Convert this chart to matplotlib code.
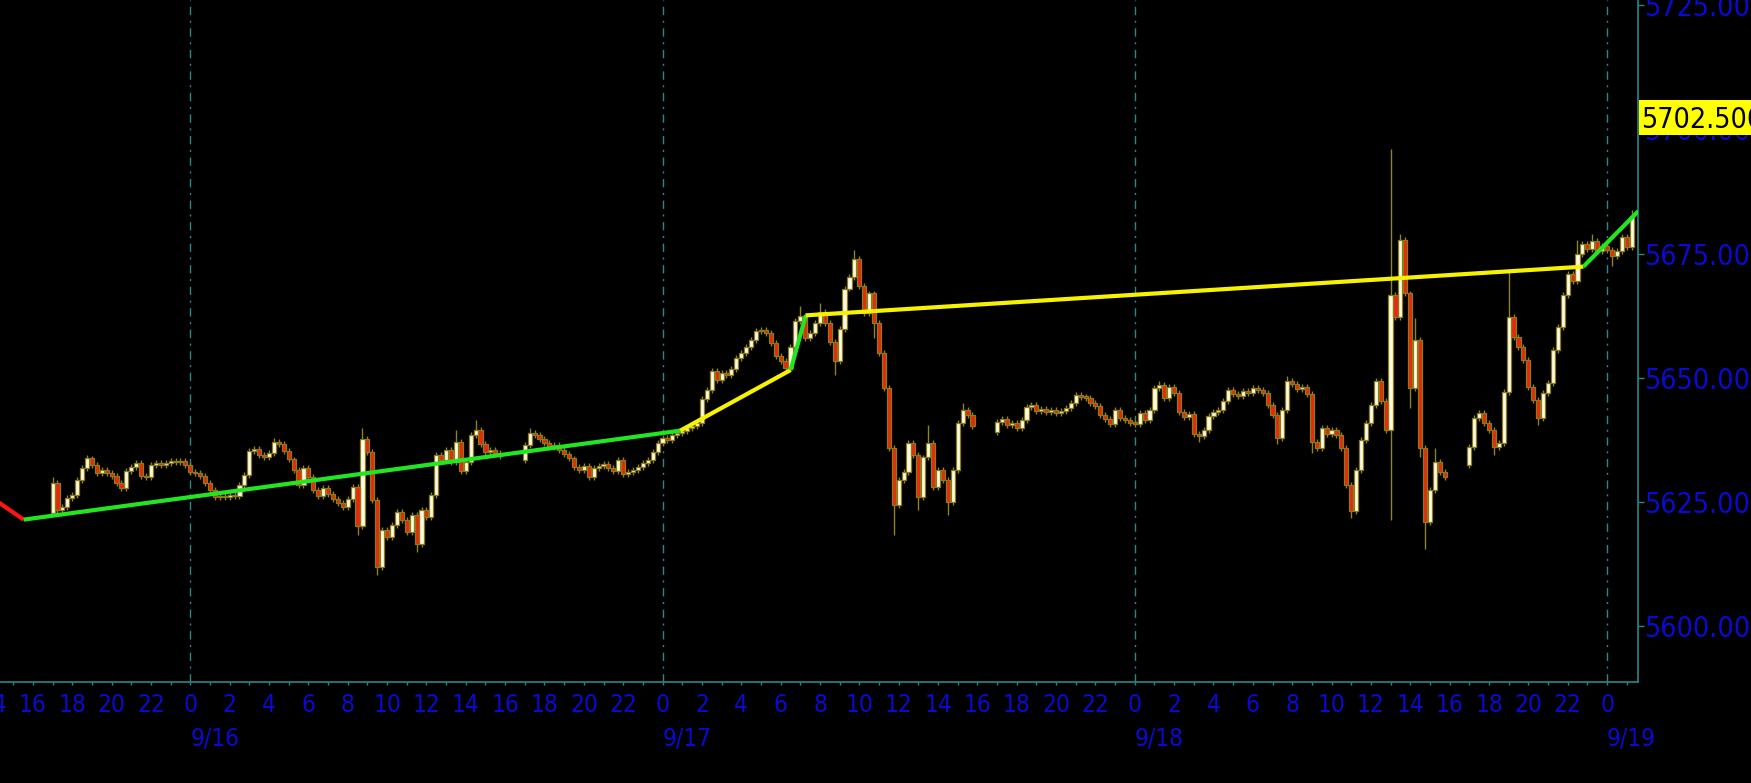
import matplotlib
matplotlib.use("Agg")
import matplotlib.pyplot as plt
import matplotlib.transforms as mtransforms
from matplotlib import font_manager as fm
from matplotlib.patches import Rectangle
import numpy as np

# 15 minute bars, time in hours counted from 9/16 00:00
sess_start = [-7.0, 17.0, 41.0, 65.0]
sess_open = [5622.8, 5633.5, 5639.2, 5632.4]

close_a = [5628.8, 5623.4, 5624.1, 5625.8, 5626.5, 5629.5, 5631.8, 5633.8, 5632.5, 5630.8,
           5631.5, 5630.8, 5630.3, 5628.8, 5627.8, 5631.2, 5632.0, 5632.8, 5630.3, 5630.0,
           5632.5, 5632.8, 5632.5, 5632.8, 5633.2, 5633.0, 5633.2, 5632.5, 5631.0, 5630.8,
           5630.3, 5628.8, 5627.5, 5626.0, 5626.3, 5626.0, 5626.5, 5626.2, 5628.4, 5630.5,
           5635.3, 5635.8, 5634.5, 5634.0, 5635.0, 5637.1, 5636.7, 5635.3, 5633.6, 5631.4,
           5628.4, 5631.8, 5630.1, 5627.5, 5626.2, 5627.9, 5626.6, 5625.7, 5624.9, 5624.0,
           5625.7, 5628.0, 5620.3, 5637.8, 5635.1, 5625.4, 5612.0, 5619.5, 5618.0, 5620.5,
           5623.0, 5621.5, 5619.0, 5622.5, 5616.5, 5623.5, 5622.0, 5626.5, 5634.5, 5633.5,
           5635.5, 5633.0, 5637.2, 5631.2, 5633.1, 5638.5, 5639.6, 5636.8, 5635.1, 5635.6,
           5635.0, 5634.3]
close_b = [5636.5, 5639.0, 5638.5, 5637.8, 5637.0, 5636.2, 5636.6, 5635.5, 5634.8, 5633.8,
           5632.0, 5631.5, 5632.3, 5630.0, 5631.8, 5632.3, 5632.6, 5631.8, 5631.2, 5633.4,
           5630.6, 5631.0, 5631.4, 5632.0, 5632.8, 5633.4, 5635.2, 5637.0, 5638.0, 5637.6,
           5638.5, 5639.0, 5639.4, 5640.0, 5640.4, 5641.0, 5645.8, 5647.5, 5651.5, 5649.5,
           5651.0, 5650.5, 5651.8, 5654.0, 5655.0, 5656.3, 5657.6, 5659.4, 5659.6, 5659.0,
           5657.0, 5654.5, 5653.5, 5652.0, 5656.3, 5661.5, 5662.5, 5658.0, 5659.0, 5661.0,
           5663.3, 5661.0, 5657.2, 5653.5, 5659.8, 5668.0, 5670.3, 5674.0, 5668.5, 5663.0,
           5667.0, 5661.0, 5655.0, 5648.0, 5636.0, 5624.5, 5629.5, 5631.0, 5637.0, 5634.5,
           5626.0, 5634.0, 5637.0, 5628.0, 5631.5, 5629.5, 5625.0, 5631.5, 5641.0, 5643.6,
           5642.6, 5640.3]
close_c = [5641.2, 5641.7, 5640.5, 5641.0, 5640.0, 5641.5, 5644.2, 5644.6, 5643.3, 5643.8,
           5643.2, 5643.6, 5643.0, 5643.4, 5644.0, 5645.0, 5646.6, 5646.2, 5646.0, 5645.0,
           5644.3, 5642.5, 5641.8, 5640.8, 5643.5, 5642.0, 5641.6, 5641.0, 5640.8, 5643.0,
           5641.5, 5643.5, 5648.0, 5648.6, 5646.0, 5648.2, 5647.0, 5643.2, 5642.2, 5642.8,
           5638.8, 5638.4, 5639.5, 5642.3, 5643.2, 5643.6, 5645.4, 5647.6, 5646.8, 5646.3,
           5647.4, 5647.0, 5648.0, 5647.5, 5647.0, 5644.5, 5642.5, 5638.0, 5643.5, 5649.3,
           5648.8, 5647.8, 5648.2, 5646.8, 5637.1, 5636.0, 5640.0, 5638.8, 5639.5, 5638.5,
           5636.0, 5628.5, 5623.2, 5631.5, 5637.5, 5641.0, 5644.6, 5649.3, 5645.4, 5639.5,
           5666.6, 5662.3, 5677.8, 5667.0, 5648.0, 5657.6, 5636.0, 5621.0, 5627.5, 5633.0,
           5631.0, 5630.0]
close_d = [5636.2, 5641.9, 5642.9, 5641.0, 5639.5, 5636.2, 5637.0, 5647.2, 5662.3, 5658.3,
           5656.3, 5653.6, 5648.2, 5645.6, 5642.0, 5646.9, 5648.9, 5655.6, 5660.3, 5666.6,
           5671.0, 5669.6, 5675.0, 5677.0, 5676.0, 5677.5, 5675.5, 5676.5, 5675.8, 5674.6,
           5675.5, 5678.4, 5676.3, 5682.5]

# bars with longer wicks (bar index -> price)
hi_a = {0: 5630.0, 7: 5634.5, 45: 5638.0, 63: 5640.0, 82: 5639.5, 86: 5641.5}
lo_a = {0: 5622.2, 62: 5618.5, 66: 5610.3, 74: 5615.0}
hi_b = {1: 5640.0, 56: 5664.5, 60: 5665.0, 67: 5675.8, 82: 5640.5, 89: 5645.0}
lo_b = {63: 5650.5, 71: 5658.0, 75: 5618.5, 80: 5623.5, 86: 5622.5}
hi_c = {33: 5649.3, 59: 5650.3, 80: 5696.0, 82: 5679.0, 85: 5662.0, 89: 5636.0}
lo_c = {0: 5638.5, 41: 5637.2, 57: 5636.8, 64: 5635.0, 72: 5621.8, 80: 5621.5,
        84: 5644.0, 86: 5634.0, 87: 5615.5}
hi_d = {8: 5671.5, 22: 5677.8, 25: 5679.0, 33: 5683.8}
lo_d = {5: 5634.5, 14: 5640.5, 29: 5672.5}

# zigzag swing line
zz_t = [-9.9, -8.47, 24.90, 30.51, 31.28, 70.80, 73.60]
zz_p = [5625.4, 5621.5, 5639.4, 5651.6, 5662.6, 5672.4, 5683.6]
zz_col = ["#ff1414", "#22e622", "#f6f200", "#22e622", "#f6f200", "#22e622"]

price_ticks = [5600, 5625, 5650, 5675, 5700, 5725]
last_mark = 5702.5
day_names = ["9/16", "9/17", "9/18", "9/19"]
day_hours = [0, 24, 48, 72]

teal = "#2a8888"
blue = "#0a0ad2"
wick_col = "#8c8420"
edge_col = "#8c7c18"
up_col = "#fffbe6"
dn_col = "#e8280c"


def pick_font():
    # narrow face like the terminal's axis font
    for f in fm.fontManager.ttflist:
        if "Narrow" in f.fname or "Condensed" in f.fname:
            if ("Bold" not in f.fname and "Italic" not in f.fname
                    and "Oblique" not in f.fname and "Light" not in f.fname):
                return f.fname
    return None


fpath = pick_font()
def fprop(size):
    if fpath:
        return fm.FontProperties(fname=fpath, size=size)
    return fm.FontProperties(family="DejaVu Sans", size=size)


# build bars
sessions = [(close_a, hi_a, lo_a), (close_b, hi_b, lo_b),
            (close_c, hi_c, lo_c), (close_d, hi_d, lo_d)]
T, O, H, L, C = [], [], [], [], []
for s, (closes, his, los) in enumerate(sessions):
    prev = sess_open[s]
    for i, c in enumerate(closes):
        o = prev
        T.append(sess_start[s] + 0.25 * i)
        O.append(o)
        C.append(c)
        H.append(his.get(i, max(o, c) + 0.6))
        L.append(los.get(i, min(o, c) - 0.6))
        prev = c
T, O, H, L, C = map(np.array, (T, O, H, L, C))

fig = plt.figure(figsize=(17.51, 7.83), dpi=100, facecolor="black")
ax = fig.add_axes([0, 1 - 681.5 / 783, 1637.5 / 1751, 681.5 / 783])
ax.set_facecolor("black")

for h in day_hours:
    ax.axvline(h, color=teal, lw=1.0, ls=(0, (6, 4, 1.5, 4)), zorder=1)

ax.vlines(T, L, H, color=wick_col, lw=1.0, zorder=2)
up = C >= O
body_lo = np.minimum(O, C)
body_h = np.maximum(np.abs(C - O), 0.35)
ax.bar(T[up], body_h[up], bottom=body_lo[up], width=0.21, color=up_col,
       edgecolor=edge_col, linewidth=0.9, zorder=3)
ax.bar(T[~up], body_h[~up], bottom=body_lo[~up], width=0.21, color=dn_col,
       edgecolor=edge_col, linewidth=0.9, zorder=3)

for k in range(len(zz_col)):
    ax.plot(zz_t[k:k + 2], zz_p[k:k + 2], color=zz_col[k], lw=3.0,
            solid_capstyle="butt", zorder=4)

ax.set_xlim(-9.672, 73.55)
ax.set_ylim(5588.93, 5726.05)

for side in ["top", "left"]:
    ax.spines[side].set_visible(False)
for side in ["right", "bottom"]:
    ax.spines[side].set_color(teal)
    ax.spines[side].set_linewidth(1.2)

ax.yaxis.tick_right()
ax.set_yticks(price_ticks)
ax.set_yticklabels([f"{v:.3f}" for v in price_ticks], fontproperties=fprop(20.5), color=blue)
ax.tick_params(axis="y", direction="out", length=4, width=1, color=teal, pad=0.5)

ax.set_xticks(np.arange(-9, 74, 1))
ax.tick_params(axis="x", direction="out", length=2.5, width=1, color=teal, labelbottom=False)

trans = mtransforms.blended_transform_factory(ax.transData, fig.transFigure)
for h in range(-10, 74, 2):
    ax.text(h, 1 - 712.5 / 783, str(h % 24), transform=trans, ha="center", va="baseline",
            color=blue, fontproperties=fprop(17.5), clip_on=False)
for h, name in zip(day_hours, day_names):
    ax.text(h, 1 - 745 / 783, name, transform=trans, ha="left", va="baseline",
            color=blue, fontproperties=fprop(17.5), clip_on=False)

# last price marker
ytr = mtransforms.blended_transform_factory(fig.transFigure, ax.transData)
fig.patches.append(Rectangle((1638.5 / 1751, last_mark - 3.7), 0.1, 7.2, transform=ytr,
                             facecolor="#ffff00", edgecolor="none", zorder=10))
fig.text(1641.5 / 1751, last_mark, f"{last_mark:.3f}", transform=ytr, ha="left",
         va="center_baseline", color="black", fontproperties=fprop(20.5), zorder=11)

fig.savefig("out.png", dpi=100, facecolor="black")
